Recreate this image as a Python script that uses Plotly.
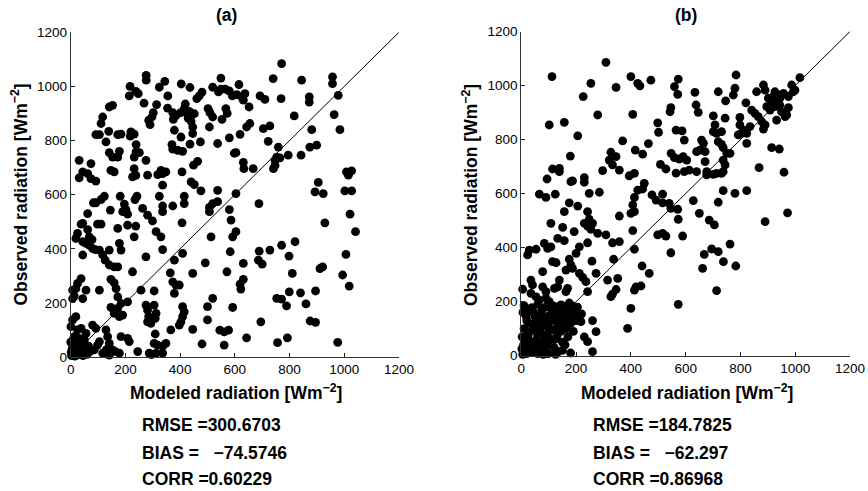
import plotly.graph_objects as go

# Panel (a): modeled vs observed radiation pairs [W m^-2]
points_a = [
    (276,1041),(276,1023),(217,1000),(247,973),(238,982),(214,965),(344,1019),(324,997),(404,1009),(436,996),
    (355,965),(268,938),(314,933),(153,930),(141,924),(519,997),(549,1031),(549,990),(565,990),(580,983),
    (540,980),(480,979),(470,965),(461,955),(591,965),(419,935),(415,918),(354,920),(373,903),(385,893),
    (375,878),(302,903),(297,887),(285,875),(290,859),(402,903),(416,906),(433,908),(452,899),(502,918),
    (509,903),(519,887),(567,918),(572,900),(553,878),(429,883),(440,871),(117,887),(111,863),(92,822),
    (105,822),(139,834),(172,822),(184,824),(220,832),(232,824),(218,816),(129,795),(379,838),(403,813),
    (446,850),(446,826),(507,850),(239,785),(370,785),(373,768),(391,764),(409,760),(436,787),(474,795),
    (537,789),(580,810),(598,753),(141,755),(153,739),(172,739),(178,760),(239,758),(232,739),(251,755),
    (31,727),(74,715),(275,727),(464,723),(449,709),(147,690),(159,684),(44,684),(31,662),(62,678),
    (74,659),(92,650),(232,696),(226,666),(238,671),(330,690),(336,678),(348,684),(318,674),(336,635),
    (281,672),(407,684),(440,647),(452,637),(476,614),(537,616),
    (771,1084),(740,1029),(844,1023),(957,1035),(957,1010),(615,1007),(607,970),(625,961),(637,973),(631,949),
    (692,965),(710,952),(769,955),(872,961),(872,942),(978,967),(652,924),(817,891),(963,896),(655,863),
    (643,850),(728,854),(704,844),(619,823),(881,840),(984,840),(722,797),(759,776),(753,739),(765,736),
    (747,727),(741,696),(747,708),(795,746),(842,746),(874,776),(899,783),(604,755),(631,719),(633,696),
    (667,696),(1008,684),(1027,688),(1015,672),(905,645),(893,610),(923,604),(1002,614),(1027,614),(604,604),
    (123,594),(111,582),(92,570),(83,570),(181,594),(242,594),(235,582),(324,594),(415,594),
    (196,565),(202,545),(190,537),(208,528),(145,543),(62,530),(263,549),(281,524),(299,503),(336,558),
    (336,537),(373,558),(415,567),(507,553),(519,567),(537,574),(507,537),(580,545),(586,506),(44,494),
    (38,491),(98,491),(111,491),(208,487),(238,484),(172,475),(407,496),(62,471),(25,457),(19,438),
    (44,426),(56,420),(68,413),(80,401),(90,397),(68,444),(78,434),(312,463),(330,444),(232,444),
    (513,444),(592,444),(178,420),(184,395),(105,395),(117,377),(141,395),(126,358),(141,340),(159,333),
    (172,333),(44,377),(336,397),(275,370),(409,383),(379,358),(583,389),(492,348),(226,315),(364,311),
    (446,309),(571,315),(38,290),(25,272),(19,253),(7,247),(56,247),(105,247),(147,287),(159,274),
    (166,253),(373,278),(385,266),(397,266),(257,247),(305,244),(13,225),(7,216),(44,216),(172,222),
    (184,198),(208,204),(379,235),(519,217),(172,180),(159,161),(147,183),(178,149),(190,155),(409,186),
    (415,167),(409,149),(403,130),(397,118),(500,186),(592,183),(309,85),(305,50),(318,44),(336,40),
    (348,50),(366,100),(446,102),(500,137),(480,48),(545,99),(561,93),(577,99),(561,44),(245,20),
    (287,14),(312,14),(336,14),(275,192),(281,173),(285,149),(281,130),(293,124),(309,143),(312,161),(305,192),
    (1021,528),(929,496),(1041,463),(604,463),(820,426),(771,413),(728,395),(689,391),(798,373),(1006,379),
    (686,358),(700,343),(631,346),(911,327),(921,333),(810,309),(994,303),(631,287),(619,269),(622,251),
    (1018,262),(799,241),(840,237),(895,244),(753,217),(771,214),(789,189),(860,196),(695,130),(875,133),
    (895,128),(643,71),(756,53),(792,71),(976,54),(688,567),
    (19,149),(7,137),(1,112),(25,100),(38,106),(56,87),(13,75),(31,69),(50,63),(19,50),
    (80,118),(92,106),(129,100),(135,75),(105,57),(98,44),(141,50),(153,26),(86,26),(117,14),
    (141,7),(178,14),(184,75),(208,69),(214,57),(3,5),(8,12),(15,3),(20,20),(5,30),
    (12,40),(25,8),(30,30),(35,15),(40,45),(45,5),(50,25),(0,55),(60,10),(10,65),
    (22,55),(65,40),(70,20),(2,18),(18,35),(162,21),(131,27),(295,9),
]

# Panel (b): modeled vs observed radiation pairs [W m^-2]
points_b = [
    (309,1086),(112,1033),(400,1033),(425,1008),(433,999),(473,1020),(573,1024),(254,1008),(346,993),(559,996),
    (571,967),(226,959),(546,918),(543,903),(279,891),(407,893),(102,854),(157,864),(498,862),(501,827),
    (206,814),(565,835),(587,832),(595,798),(370,795),(464,785),(416,761),(443,746),(327,753),(321,724),
    (346,737),(333,706),(358,687),(297,685),(547,749),(559,733),(577,728),(565,676),(595,681),(508,708),
    (528,691),(179,739),(114,691),(139,693),(139,681),(94,654),(187,647),(181,644),(230,659),(230,642),
    (394,666),(413,675),(449,638),(443,617),(425,613),(66,598),(124,598),(248,601),(285,605),(516,598),
    (784,1039),(780,990),(774,965),(634,975),(719,977),(746,943),(820,936),(859,977),(884,1002),(890,983),
    (926,977),(938,965),(920,959),(944,953),(957,971),(975,959),(987,1002),(993,977),(999,983),(1017,1029),
    (902,953),(914,934),(896,922),(908,909),(926,922),(932,940),(944,928),(950,903),(975,918),(969,891),
    (638,928),(646,901),(701,888),(744,879),(798,882),(841,909),(853,897),(865,885),(878,866),(890,854),
    (884,839),(932,872),(963,885),(707,854),(701,829),(713,823),(731,829),(798,854),(811,835),(823,823),
    (835,848),(792,817),(804,823),(658,798),(665,786),(652,761),(671,755),(640,755),(719,792),(731,782),
    (737,770),(823,786),(914,770),(942,765),(750,749),(762,749),(591,737),(604,724),(671,718),(677,681),
    (737,724),(744,706),(737,681),(731,675),(640,681),(613,687),(677,669),(701,671),(713,675),(868,696),
    (959,679),(737,611),(780,601),(823,611),
    (90,586),(477,595),(413,586),(492,576),(516,566),(540,564),(546,545),(571,542),
    (175,566),(206,554),(157,533),(242,533),(248,505),(407,558),(400,527),(413,533),(358,517),
    (108,490),(151,475),(230,490),(242,480),(260,490),(254,468),(193,459),(279,453),(309,447),(407,463),
    (498,447),(516,453),(528,443),(573,505),(589,443),(133,434),(157,426),(84,416),(96,397),(108,403),
    (29,391),(23,373),(54,394),(242,418),(212,403),(200,379),(333,418),(358,422),(413,394),(546,381),
    (127,344),(114,348),(175,357),(181,336),(187,323),(163,317),(258,350),(273,305),(337,357),(78,311),
    (441,332),(467,305),(212,305),(224,290),(236,274),(315,280),(352,286),(139,280),(133,255),(121,249),
    (35,280),(41,262),(5,246),(78,255),(90,237),(169,249),(163,237),(242,237),(346,245),(333,228),
    (327,219),(413,243),(419,255),(437,258),(66,206),(90,212),(102,200),(54,218),(35,231),
    (194,163),(200,151),(218,126),(260,130),(273,89),(400,175),(388,101),(573,190),(230,70),(242,52),(260,15),
    (628,574),(719,568),(650,527),(686,502),(705,484),(890,496),(972,529),(762,413),(695,395),(719,385),
    (668,375),(738,348),(783,332),(662,323),(713,241),
    (108,175),(127,181),(145,188),(139,169),(157,163),(121,151),(133,138),(151,144),
    (5,5),(12,18),(20,8),(28,30),(8,40),(35,12),(42,45),(15,60),(50,25),(55,60),
    (60,8),(25,75),(65,40),(70,85),(40,95),(10,100),(75,15),(80,55),(85,110),(30,120),
    (90,30),(95,80),(55,130),(100,120),(110,60),(18,145),(105,150),(115,95),(120,30),(125,130),
    (45,160),(130,70),(135,110),(70,150),(140,155),(145,90),(150,50),(155,125),(160,175),(165,100),
    (170,140),(88,180),(60,190),(175,160),(180,120),(185,185),(20,130),(3,70),(48,110),(78,125),
    (112,170),(98,8),(2,25),(33,52),(58,82),(88,66),(118,145),(148,185),(6,160),(72,40),
    (38,178),(125,5),(160,40),(100,195),(190,90),(205,180),(220,155),(180,10),(150,20),(200,130),
    (15,15),(25,45),(45,30),(62,22),(80,5),(95,45),(105,95),(122,60),(135,15),(145,130),
    (160,110),(170,70),(180,165),(190,140),(115,185),(75,170),(50,145),(30,170),(10,185),(65,110),
    (92,145),(128,100),(158,150),(175,195),(195,170),
]

tick_vals = [0, 200, 400, 600, 800, 1000, 1200]
axis_range = [0, 1200]
panel_titles = ["(a)", "(b)"]
stats_a = ["RMSE =300.6703", "BIAS =\u00a0\u00a0\u00a0\u221274.5746", "CORR =0.60229"]
stats_b = ["RMSE =184.7825", "BIAS =\u00a0\u00a0\u00a0\u221262.297", "CORR =0.86968"]
x_title = "Modeled radiation [Wm<sup>\u22122</sup>]"
y_title = "Observed radiation [Wm<sup>\u22122</sup>]"

W, H = 868, 491
FONT = "Liberation Sans, Arial, Helvetica, sans-serif"


def px(x):
    return x / W


def py(y):
    return 1 - y / H


fig = go.Figure()

panels = [
    dict(pts=points_a, xa="x", ya="y"),
    dict(pts=points_b, xa="x2", ya="y2"),
]
for p in panels:
    xs = [a for a, _ in p["pts"]]
    ys = [b for _, b in p["pts"]]
    fig.add_trace(go.Scatter(
        x=xs, y=ys, mode="markers", xaxis=p["xa"], yaxis=p["ya"],
        marker=dict(color="black", size=8.8, line=dict(width=0)),
        showlegend=False, hoverinfo="skip", cliponaxis=False,
    ))
    fig.add_trace(go.Scatter(
        x=axis_range, y=axis_range, mode="lines", xaxis=p["xa"], yaxis=p["ya"],
        line=dict(color="black", width=1), showlegend=False, hoverinfo="skip",
    ))

axis_style = dict(
    range=axis_range, tickvals=tick_vals, ticks="inside", ticklen=4, tickwidth=1,
    tickcolor="#222", showline=True, linecolor="#333", linewidth=1, mirror=False,
    showgrid=False, zeroline=False, fixedrange=True, automargin=False,
    tickfont=dict(family=FONT, size=13.5, color="black"),
)

fig.update_layout(
    width=W, height=H, margin=dict(l=0, r=0, t=0, b=0, autoexpand=False),
    paper_bgcolor="white", plot_bgcolor="white",
    xaxis=dict(domain=[px(70.7), px(399.0)], anchor="y", **axis_style),
    yaxis=dict(domain=[py(357.0), py(32.3)], anchor="x", **axis_style),
    xaxis2=dict(domain=[px(521.3), px(850.0)], anchor="y2", **axis_style),
    yaxis2=dict(domain=[py(355.7), py(31.5)], anchor="x2", **axis_style),
)

annotations = []
bold = dict(family=FONT, size=17.5, color="black")
# panel titles
for t, cx in zip(panel_titles, [226.7, 685.7]):
    annotations.append(dict(text=f"<b>{t}</b>", x=px(cx), y=py(15), xref="paper", yref="paper",
                            xanchor="center", yanchor="middle", showarrow=False, font=bold))
# axis titles
for cx in [235.5, 686.5]:
    annotations.append(dict(text=f"<b>{x_title}</b>", x=px(cx), y=py(392), xref="paper", yref="paper",
                            xanchor="center", yanchor="middle", showarrow=False, font=bold))
for cx in [19.5, 470.0]:
    annotations.append(dict(text=f"<b>{y_title}</b>", x=px(cx), y=py(195), xref="paper", yref="paper",
                            xanchor="center", yanchor="middle", showarrow=False, font=bold,
                            textangle=-90))
# statistics below each panel
for lines, lx in [(stats_a, 140.0), (stats_b, 590.7)]:
    for s, cy in zip(lines, [425, 452.5, 479]):
        annotations.append(dict(text=f"<b>{s}</b>", x=px(lx), y=py(cy), xref="paper", yref="paper",
                                xanchor="left", yanchor="middle", showarrow=False, font=bold))

fig.update_layout(annotations=annotations)
fig.write_html("out.html")
